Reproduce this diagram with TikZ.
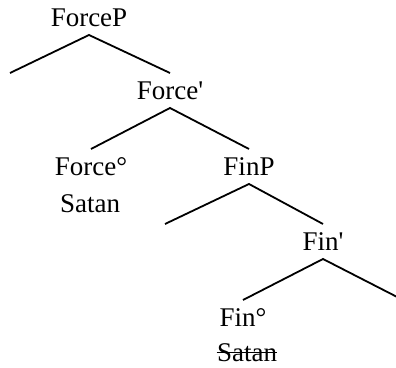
\documentclass[tikz,border=0pt]{standalone}
\usepackage{fontspec}
\setmainfont{Liberation Serif}

\tikzset{
    cat/.style={inner sep=0pt, text height=9.5pt, text depth=0pt, outer ysep=4pt,
        anchor=base, font=\fontsize{13.5}{16}\selectfont},
    branch/.style={line width=0.9pt},
    strike/.style={line width=0.6pt}
}

\begin{document}
\begin{tikzpicture}[x=0.5pt, y=-0.5pt]
        % Fix the page to the size of the reference
        \useasboundingbox (0,0) rectangle (396,368);

        % Category labels, placed at their baselines
        \node[cat] (forcep) at (89,27) {ForceP};
        \node[cat] (forcebar) at (170,100) {Force\textquotesingle};
        \node[cat] (forcehead) at (91,176) {Force°};
        \node[cat] (forceword) at (90,213) {Satan};
        \node[cat] (finp) at (249,176) {FinP};
        \node[cat] (finbar) at (323,251) {Fin\textquotesingle};
        \node[cat] (finhead) at (243,327) {Fin°};
        \node[cat] (finword) at (247,362) {Satan};

        % Strike out the lower copy
        \draw[strike] (finword.west) -- (finword.east);

        % Empty specifier and complement positions
        \coordinate (specforce) at (10,73);
        \coordinate (specfin) at (165,224);
        \coordinate (compfin) at (403,300);

        % Draw the branches of each mother node
        \foreach \mom/\dl/\dr in {forcep/specforce/forcebar.north,
                                  forcebar/forcehead.north/finp.north,
                                  finp/specfin/finbar.north,
                                  finbar/finhead.north/compfin} {
            \draw[branch] (\dl) -- (\mom.south) -- (\dr);
        }
    \end{tikzpicture}
\end{document}
